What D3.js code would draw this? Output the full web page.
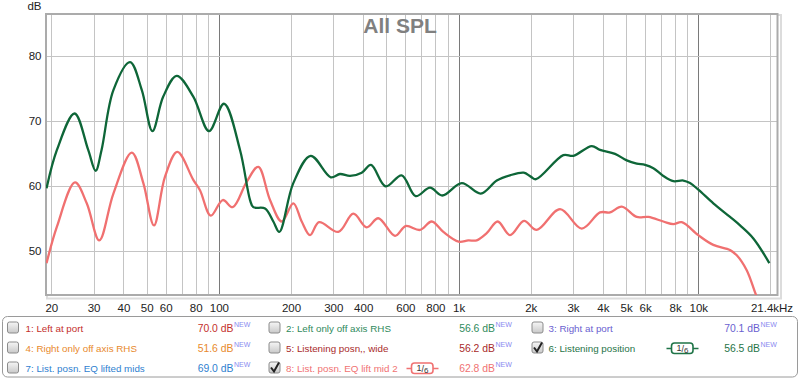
<!DOCTYPE html>
<html><head><meta charset="utf-8">
<script src="https://cdn.jsdelivr.net/npm/d3@7/dist/d3.min.js"></script>
<style>
html,body{margin:0;padding:0;background:#fff;}
svg{display:block;}
text{font-family:"Liberation Sans",Arial,sans-serif;}
</style></head>
<body>
<div id="chart"></div>
<script>
// ---- data (frequency in Hz, level in dB) ----
const greenFreq = [19.1,21.1,25.0,28.5,30.6,32.4,36.3,42.6,47.7,52.8,58.6,66.7,78.2,91,105,122.5,134.9,139.2,155.8,168.7,178.7,204.4,241.6,292.8,320,352.5,394.4,431,496.5,579,662,760,855,1031,1237,1443,1639,1870,2000,2104,2735,3011,3593,3890,4494,5028,5536,5997,6494,7147,7867,8661,9237,10000,11552,13565,14935,16969,19786];
const greenDb   = [59.7,65.6,71.2,65.6,62.4,65.6,74.8,79.1,74.8,68.5,73.8,77.0,73.8,68.5,72.7,65.6,57.9,56.8,56.6,54.6,53.0,60.5,64.7,61.4,61.9,61.6,62.1,63.3,60.0,61.7,58.5,59.8,58.6,60.5,58.9,60.9,61.7,62.1,61.5,61.1,64.8,64.7,66.2,65.6,65.0,64.0,63.5,63.3,62.8,61.6,60.8,60.9,60.5,59.5,57.4,55.3,54.0,52.0,48.2];

const redFreq = [19.1,21.1,25.1,28.1,31.7,36.3,43.3,48.4,53.6,59.6,67.1,78.2,83.4,92.5,103.8,114.2,130.6,146.0,163.4,182.9,204.4,221.6,240,261.7,315,363.8,413.6,462.6,543,601.7,690.5,772.5,863.7,1000,1098,1190,1310,1456,1639,1875,2118,2650,3264,3890,4283,4793,5536,6187,7147,7867,8529,10000,11552,13565,14468,15922,17412,18500];
const redDb   = [48.2,53.8,60.6,57.4,51.7,58.9,65.2,60.5,54.0,61.5,65.3,61.0,59.4,55.5,57.9,56.8,60.7,63.0,57.9,54.6,57.4,54.6,52.5,54.5,53.0,55.8,53.7,55.1,52.4,53.9,53.3,54.6,53.0,51.5,51.7,51.7,52.8,54.6,52.5,54.7,53.3,56.5,53.5,56.0,56.0,56.9,55.3,55.3,54.6,54.2,54.5,52.5,51.0,50.2,49.4,47.1,43.3,41.0];

const xTickValues = [20,30,40,50,60,80,100,200,300,400,600,800,1000,2000,3000,4000,5000,6000,8000,10000,21400];
const xTickLabels = ["20","30","40","50","60","80","100","200","300","400","600","800","1k","2k","3k","4k","5k","6k","8k","10k","21.4kHz"];
const xGridValues = [20,30,40,50,60,70,80,90,100,200,300,400,500,600,700,800,900,1000,2000,3000,4000,5000,6000,7000,8000,9000,10000,20000];
const xMajorGrid = [100,1000,10000];
const yTickValues = [50,60,70,80];

const legendNames  = ["1: Left at port","2: Left only off axis RHS","3: Right at port","4: Right only off axis RHS","5: Listening posn,, wide","6: Listening position","7: List. posn. EQ lifted mids","8: List. posn. EQ lift mid 2"];
const legendValues = ["70.0 dB","56.6 dB","70.1 dB","51.6 dB","56.2 dB","56.5 dB","69.0 dB","62.8 dB"];
const legendColors = ["#c4302c","#2f8a5c","#6a5fd0","#e8892c","#a82a2a","#1f7447","#2f7fd0","#f07272"];
const legendChecked = [false,false,false,false,false,true,false,true];

const W = 800, H = 381;
const svg = d3.select("#chart").append("svg").attr("width",W).attr("height",H);

const L = 46, R = 777.5, T = 14, B = 295;
const x = d3.scaleLog().domain([19,21400]).range([L,R]);
const y = d3.scaleLinear().domain([43.3,86.5]).range([B,T]);
const px = v => Math.round(v)+0.5;

// frame shadow
svg.append("rect").attr("x",L+1).attr("y",T+1).attr("width",R-L+2.5).attr("height",B-T+2.5)
  .attr("fill","none").attr("stroke","#dcdcdc").attr("stroke-width",2);
svg.append("rect").attr("x",L).attr("y",T).attr("width",R-L).attr("height",B-T).attr("fill","#fff");

// grid
const grid = svg.append("g");
grid.selectAll("line.v").data(xGridValues).join("line")
  .attr("x1",d=>px(x(d))).attr("x2",d=>px(x(d))).attr("y1",T).attr("y2",B)
  .attr("stroke",d=>xMajorGrid.includes(d)?"#7a7a7a":"#c4c4c4").attr("stroke-width",1);
grid.selectAll("line.h").data(yTickValues).join("line")
  .attr("x1",L).attr("x2",R).attr("y1",d=>px(y(d))).attr("y2",d=>px(y(d)))
  .attr("stroke","#c4c4c4").attr("stroke-width",1);

// frame
svg.append("rect").attr("x",L).attr("y",T).attr("width",R-L).attr("height",B-T)
  .attr("fill","none").attr("stroke","#ababab").attr("stroke-width",2);

// title
svg.append("text").attr("x",400).attr("y",33).attr("text-anchor","middle")
  .attr("font-size",21).attr("font-weight","bold").attr("fill","#808080").text("All SPL");

// clip
svg.append("clipPath").attr("id","clip").append("rect")
  .attr("x",L).attr("y",T).attr("width",R-L).attr("height",B-T);

const line = d3.line().x(d=>x(d[0])).y(d=>y(d[1])).curve(d3.curveCatmullRom.alpha(0.5));
const plot = svg.append("g").attr("clip-path","url(#clip)");
plot.append("path").datum(redFreq.map((f,i)=>[f,redDb[i]]))
  .attr("d",line).attr("fill","none").attr("stroke","#f07070").attr("stroke-width",2.3).attr("stroke-linejoin","round");
plot.append("path").datum(greenFreq.map((f,i)=>[f,greenDb[i]]))
  .attr("d",line).attr("fill","none").attr("stroke","#0e6638").attr("stroke-width",2.3).attr("stroke-linejoin","round");

// axes labels
const axisFont = 11.5;
svg.append("g").selectAll("text").data(yTickValues).join("text")
  .attr("x",41.5).attr("y",d=>y(d)+4).attr("text-anchor","end")
  .attr("font-size",axisFont).attr("fill","#222").text(d=>d);
svg.append("text").attr("x",41.5).attr("y",9.5).attr("text-anchor","end")
  .attr("font-size",axisFont).attr("fill","#222").text("dB");
svg.append("g").selectAll("text").data(xTickValues).join("text")
  .attr("x",(d,i)=> i===xTickValues.length-1 ? x(d)-5.5 : x(d)+0.5)
  .attr("y",311.5).attr("text-anchor","middle")
  .attr("font-size",axisFont).attr("fill","#222").text((d,i)=>xTickLabels[i]);

// legend
svg.append("rect").attr("x",2.5).attr("y",316.5).attr("width",795).attr("height",60.5).attr("rx",5)
  .attr("fill","#fff").attr("stroke","#9a9a9a");

const defs = svg.append("defs");
const gr = defs.append("linearGradient").attr("id","cb").attr("x1",0).attr("y1",0).attr("x2",0).attr("y2",1);
gr.append("stop").attr("offset","0%").attr("stop-color","#f6f6f6");
gr.append("stop").attr("offset","100%").attr("stop-color","#c9c9c9");

const colX = [7, 268.5, 531.5];
const textX = [25.5, 286, 548.5];
const valEnd = [233.5, 495, 760];
const rowY = [328.5, 348.5, 368.5];
const legFont = 9.8;

legendNames.forEach((name,i)=>{
  const col = i%3, row = Math.floor(i/3);
  const cy = rowY[row];
  const g = svg.append("g");
  g.append("rect").attr("x",colX[col]+0.5).attr("y",cy-6.5).attr("width",11).attr("height",11).attr("rx",2)
    .attr("fill","url(#cb)").attr("stroke","#8c8c8c");
  if (legendChecked[i]) {
    g.append("path").attr("d",`M${colX[col]+2.5},${cy-1} L${colX[col]+5.5},${cy+3} L${colX[col]+10.5},${cy-6}`)
      .attr("fill","none").attr("stroke","#222").attr("stroke-width",2);
  }
  g.append("text").attr("x",textX[col]).attr("y",cy+3.5).attr("font-size",legFont)
    .attr("fill",legendColors[i]).text(name);
  g.append("text").attr("x",valEnd[col]).attr("y",cy+3.5).attr("text-anchor","end").attr("font-size",legFont+0.6)
    .attr("fill",legendColors[i]).text(legendValues[i]);
  g.append("text").attr("x",valEnd[col]+0.5).attr("y",cy-2).attr("font-size",7)
    .attr("fill","#8a8af0").text("NEW");
  if (legendChecked[i]) {
    const bx = col===1 ? 406.5 : 666.5;
    const c = legendColors[i];
    g.append("line").attr("x1",bx).attr("x2",bx+32).attr("y1",cy).attr("y2",cy).attr("stroke",c).attr("stroke-width",1.5);
    g.append("rect").attr("x",bx+5).attr("y",cy-5.5).attr("width",21.5).attr("height",10.5).attr("rx",3)
      .attr("fill","#fff").attr("stroke",c).attr("stroke-width",1.6);
    const t = g.append("text").attr("x",bx+16).attr("y",cy+3.5).attr("text-anchor","middle").attr("font-size",9).attr("fill","#333");
    t.append("tspan").attr("dy",-1.5).text("1");
    t.append("tspan").attr("dy",1.5).text("/");
    t.append("tspan").attr("dy",1).attr("font-size",8).text("6");
  }
});
</script>
</body></html>
